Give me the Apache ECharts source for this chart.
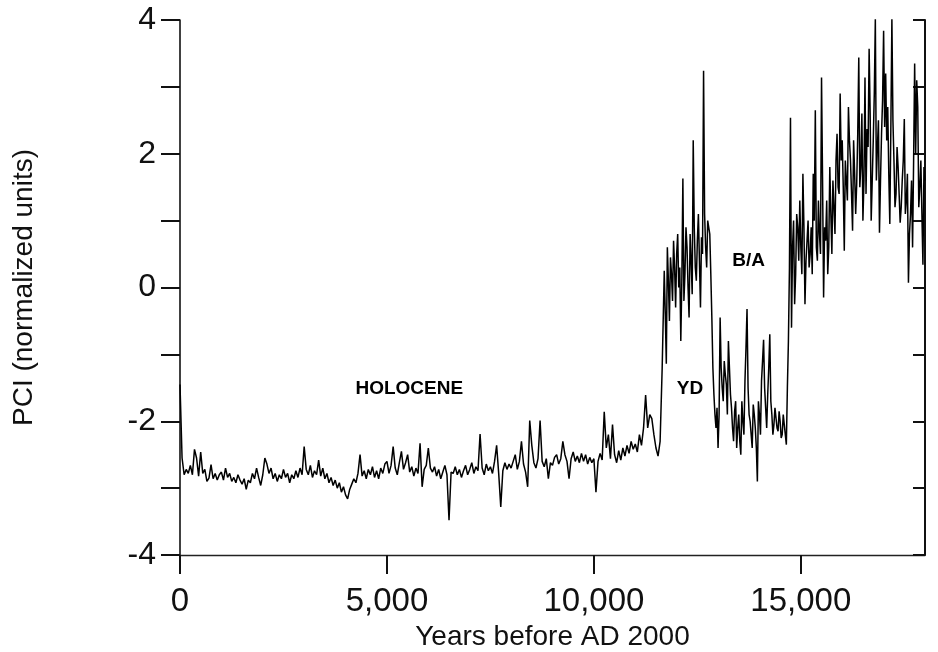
<!DOCTYPE html>
<html>
<head>
<meta charset="utf-8">
<script src="https://cdn.jsdelivr.net/npm/echarts@6/dist/echarts.min.js"></script>
<style>
html,body{margin:0;padding:0;background:#fff;}
#chart{width:938px;height:652px;}
</style>
</head>
<body>
<div id="chart"></div>
<script>
// Holocene part: one value every 50 years, years 0 - 11650 before AD 2000
const holoceneStart = 0;
const holoceneStep = 50;
const holoceneValues = [
  // 0 - 950
  -1.45,-2.55,-2.8,-2.72,-2.78,-2.66,-2.8,-2.42,-2.55,-2.82,-2.46,-2.78,-2.72,-2.9,-2.85,-2.65,-2.86,-2.78,-2.88,-2.8,
  // 1000 - 1950
  -2.76,-2.88,-2.7,-2.84,-2.78,-2.9,-2.84,-2.92,-2.8,-2.88,-2.94,-2.86,-3.02,-2.88,-2.92,-2.78,-2.86,-2.7,-2.84,-2.96,
  // 2000 - 2950
  -2.8,-2.55,-2.64,-2.78,-2.7,-2.86,-2.78,-2.9,-2.8,-2.86,-2.72,-2.84,-2.78,-2.92,-2.8,-2.86,-2.74,-2.84,-2.7,-2.8,
  // 3000 - 3950
  -2.38,-2.72,-2.8,-2.66,-2.84,-2.74,-2.8,-2.58,-2.82,-2.7,-2.86,-2.78,-2.92,-2.84,-2.96,-2.88,-3.0,-2.92,-3.06,-2.98,
  // 4000 - 4950
  -3.1,-3.16,-3.02,-2.94,-2.86,-2.92,-2.78,-2.5,-2.82,-2.74,-2.86,-2.72,-2.8,-2.68,-2.84,-2.74,-2.86,-2.7,-2.78,-2.64,
  // 5000 - 5950
  -2.6,-2.78,-2.66,-2.38,-2.7,-2.8,-2.62,-2.45,-2.72,-2.62,-2.5,-2.76,-2.68,-2.82,-2.7,-2.78,-2.33,-2.98,-2.72,-2.66,
  // 6000 - 6950
  -2.4,-2.7,-2.76,-2.68,-2.82,-2.72,-2.86,-2.76,-2.66,-2.8,-3.48,-2.76,-2.78,-2.68,-2.8,-2.72,-2.84,-2.74,-2.66,-2.8,
  // 7000 - 7950
  -2.72,-2.62,-2.78,-2.68,-2.74,-2.19,-2.7,-2.8,-2.64,-2.74,-2.68,-2.78,-2.6,-2.36,-2.78,-3.28,-2.74,-2.62,-2.72,-2.64,
  // 8000 - 8950
  -2.7,-2.6,-2.5,-2.72,-2.6,-2.3,-2.64,-2.76,-2.98,-1.99,-2.36,-2.62,-2.7,-2.56,-1.99,-2.6,-2.68,-2.56,-2.86,-2.62,
  // 9000 - 9950
  -2.66,-2.54,-2.5,-2.64,-2.56,-2.3,-2.5,-2.6,-2.86,-2.56,-2.46,-2.6,-2.52,-2.62,-2.48,-2.6,-2.5,-2.64,-2.54,-2.62,
  // 10000 - 10950
  -2.56,-3.06,-2.6,-2.48,-2.58,-1.86,-2.4,-2.2,-2.56,-2.05,-2.5,-2.62,-2.44,-2.58,-2.4,-2.52,-2.36,-2.48,-2.3,-2.42,
  // 11000 - 11650
  -2.34,-2.46,-2.2,-2.36,-2.1,-1.61,-2.1,-1.9,-1.96,-2.2,-2.4,-2.52,-2.3,-1.2
];

// Late-glacial part: one value every 25 years, years 11700 - 18000
const glacialStart = 11700;
const glacialStep = 25;
const glacialValues = [
  // 11700 - 11975
  0.25,-0.4,-1.14,0.6,0.1,-0.5,0.45,0.2,-0.2,0.7,0.3,-0.3,
  // 12000 - 12975
  0.5,0.8,0.0,0.3,-0.8,0.1,1.63,-0.2,0.2,0.9,0.6,0.0,-0.45,0.8,0.4,-0.1,2.2,0.9,0.3,0.1,
  0.7,1.1,0.4,-0.3,0.75,0.5,3.24,1.1,0.6,0.3,1.0,0.9,0.8,0.2,-0.45,-1.2,-1.6,-1.9,-2.1,-1.8,
  // 13000 - 13975
  -2.4,-1.9,-0.45,-1.2,-1.5,-1.7,-1.1,-1.3,-1.45,-1.9,-0.8,-1.2,-1.6,-1.8,-2.1,-2.3,-1.85,-1.7,-2.4,-2.1,
  -1.9,-2.3,-2.5,-1.7,-2.0,-2.2,-1.4,-0.9,-0.32,-1.5,-1.9,-2.0,-2.2,-2.4,-1.75,-1.9,-2.1,-2.4,-2.9,-1.7,
  // 14000 - 14975
  -1.9,-2.2,-1.4,-1.1,-0.78,-1.5,-1.8,-2.1,-1.6,-1.2,-0.7,-1.7,-1.9,-2.2,-2.05,-1.8,-1.95,-2.1,-2.15,-1.85,
  -2.0,-2.25,-2.2,-1.9,-2.05,-2.2,-2.35,-1.5,-0.8,0.3,2.54,-0.6,0.6,1.0,-0.25,0.2,1.1,0.9,0.4,1.3,
  // 15000 - 15975
  0.6,0.2,1.7,0.9,-0.25,0.4,0.7,1.0,0.3,0.5,0.9,0.2,1.7,1.0,2.65,0.6,0.4,1.3,0.8,0.5,
  3.14,1.6,-0.15,0.9,0.7,1.3,0.2,0.6,1.8,1.1,0.5,1.6,1.2,0.8,1.9,2.3,1.5,1.4,2.9,1.9,
  // 16000 - 16975
  2.2,1.5,0.55,1.9,1.6,1.3,2.7,2.2,1.9,1.4,0.85,2.2,1.7,1.1,1.55,2.3,3.44,1.5,1.8,2.6,
  1.0,1.6,3.14,1.4,2.37,2.1,3.57,2.6,1.0,1.6,2.2,2.9,4.02,1.6,2.1,2.5,0.82,1.6,2.3,2.8,
  // 17000 - 17975
  3.84,2.4,3.2,2.2,2.7,1.7,0.95,2.4,4.02,2.5,1.9,1.2,1.4,2.1,1.8,1.4,0.97,1.2,1.6,1.9,
  2.52,1.1,1.3,1.7,0.07,0.8,1.1,1.6,0.6,1.9,3.35,2.0,3.1,2.7,1.2,1.5,1.9,1.1,0.34,1.8,
  // 18000
  1.6
];

const xTickValues = [0, 5000, 10000, 15000];
const yLabelValues = [-4, -2, 0, 2, 4];
const periodLabels = ['HOLOCENE', 'YD', 'B/A'];
const periodYears = [5540, 12320, 13740];
const periodValues = [-1.51, -1.51, 0.40];

const FONT = '"Liberation Sans", Arial, Helvetica, sans-serif';
const seriesData = holoceneValues.map((v, i) => [holoceneStart + i * holoceneStep, v])
  .concat(glacialValues.map((v, i) => [glacialStart + i * glacialStep, v]));

const chart = echarts.init(document.getElementById('chart'), null, { renderer: 'canvas' });
chart.setOption({
  animation: false,
  backgroundColor: '#fff',
  grid: { left: 180, right: 13, top: 20, bottom: 97, containLabel: false, outerBoundsMode: 'none' },
  xAxis: {
    type: 'value', min: 0, max: 18000, interval: 5000,
    name: 'Years before AD 2000', nameLocation: 'middle', nameGap: 63,
    nameTextStyle: { fontFamily: FONT, fontSize: 28, color: '#111' },
    axisLine: { show: true, onZero: false, lineStyle: { color: '#222', width: 1.3 } },
    axisTick: { show: true, inside: false, length: 19, customValues: xTickValues, lineStyle: { color: '#111', width: 2 } },
    axisLabel: { customValues: xTickValues, margin: 30, fontFamily: FONT, fontSize: 33, color: '#111',
      formatter: v => v.toLocaleString('en-US') },
    splitLine: { show: false }
  },
  yAxis: [{
    type: 'value', min: -4, max: 4, interval: 1, position: 'left',
    name: 'PCI (normalized units)', nameLocation: 'middle', nameGap: 142, nameRotate: 90,
    nameTextStyle: { fontFamily: FONT, fontSize: 28, color: '#111' },
    axisLine: { show: true, onZero: false, lineStyle: { color: '#111', width: 1.6 } },
    axisTick: { show: true, inside: false, length: 19, lineStyle: { color: '#111', width: 2 } },
    axisLabel: { customValues: yLabelValues, margin: 24, fontFamily: FONT, fontSize: 32, color: '#111' },
    splitLine: { show: false }
  }, {
    type: 'value', min: -4, max: 4, interval: 1, position: 'right',
    axisLine: { show: true, onZero: false, lineStyle: { color: '#111', width: 2 } },
    axisTick: { show: true, inside: true, length: 12, lineStyle: { color: '#111', width: 2 } },
    axisLabel: { show: false },
    splitLine: { show: false }
  }],
  series: [{
    type: 'line', data: seriesData, showSymbol: false, symbol: 'none',
    lineStyle: { color: '#000', width: 1.5 }, silent: true
  }]
});

const graphics = periodLabels.map((t, i) => {
  const p = chart.convertToPixel({ gridIndex: 0 }, [periodYears[i], periodValues[i]]);
  return {
    type: 'text', x: p[0], y: p[1], silent: true,
    style: { text: t, fill: '#000', font: 'bold 19px ' + FONT, align: 'center', verticalAlign: 'middle' }
  };
});
chart.setOption({ graphic: graphics });
</script>
</body>
</html>
